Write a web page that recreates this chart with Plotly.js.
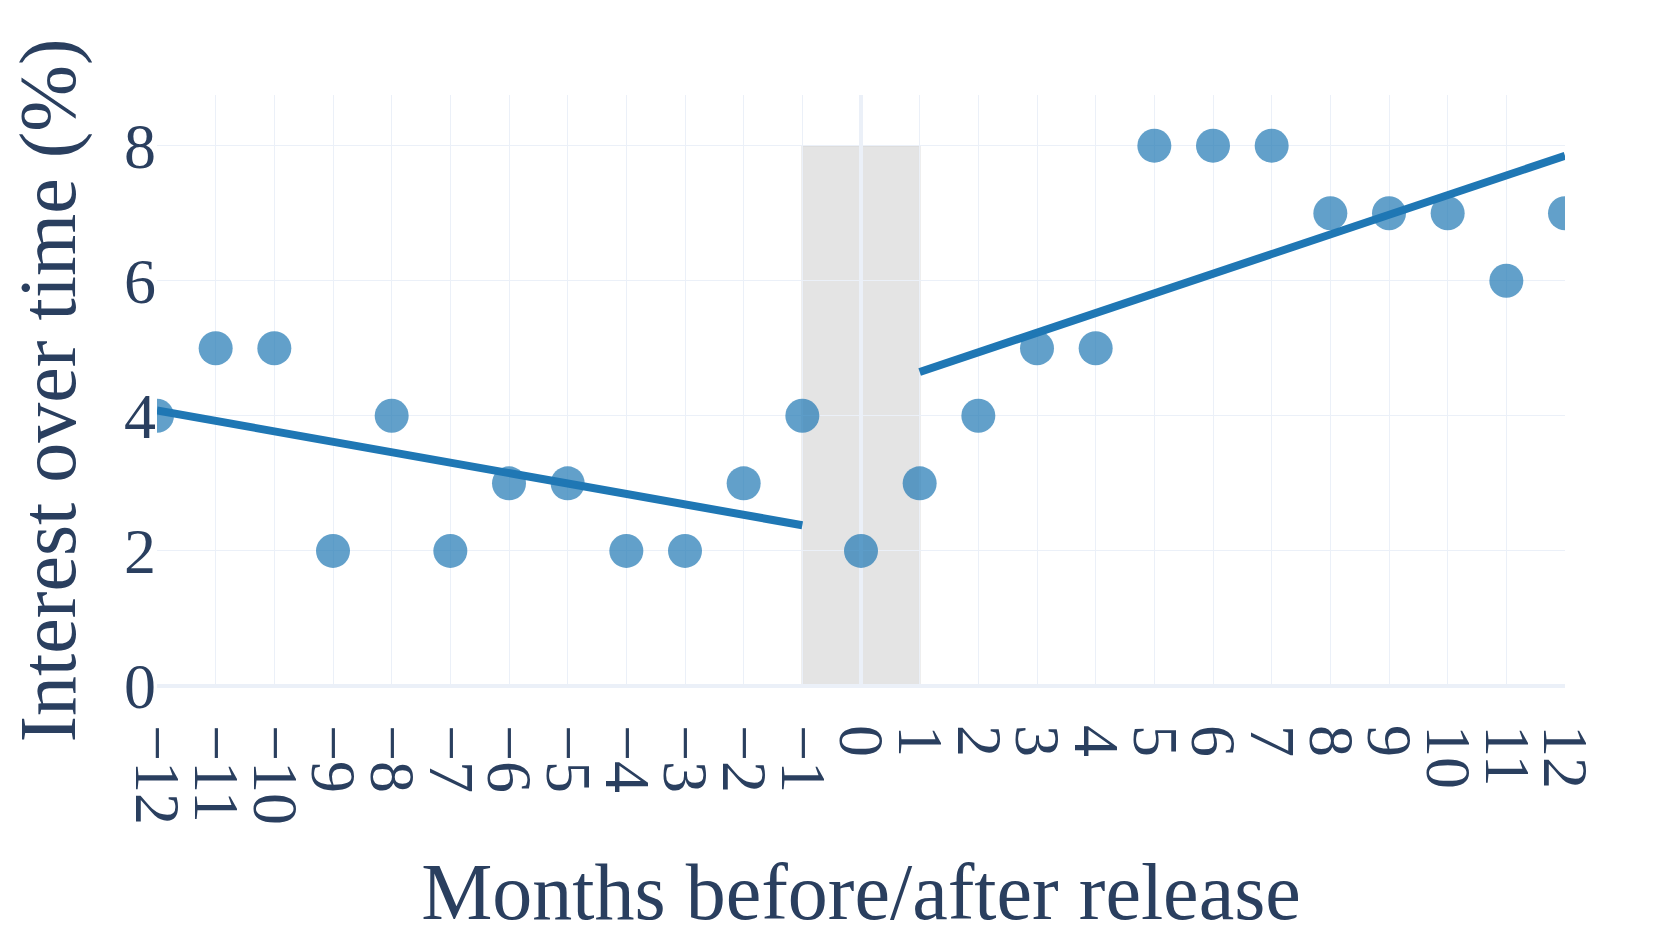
<!DOCTYPE html>
<html>
<head>
<meta charset="utf-8">
<script src="https://cdn.plot.ly/plotly-3.0.1.min.js"></script>
<style>
  html, body { margin: 0; padding: 0; background: #fff; }
  #chart { width: 1661px; height: 949px; }
</style>
</head>
<body>
<div id="chart"></div>
<script>
const months = [-12, -11, -10, -9, -8, -7, -6, -5, -4, -3, -2, -1, 0, 1, 2, 3, 4, 5, 6, 7, 8, 9, 10, 11, 12];
const interest = [4, 5, 5, 2, 4, 2, 3, 3, 2, 2, 3, 4, 2, 3, 4, 5, 5, 8, 8, 8, 7, 7, 7, 6, 7];

// fitted trend lines (endpoints)
const preX = [-12, -1];
const preY = [4.08, 2.38];
const postX = [1, 12];
const postY = [4.65, 7.85];

// release window
const windowX = [-1, 1];
const windowY = [0, 8];

const fontFamily = '"Liberation Serif", "Times New Roman", serif';
const ink = "#2a3f5f";

const traces = [
  {
    type: "scatter",
    mode: "markers",
    x: months,
    y: interest,
    marker: { color: "#1f77b4", size: 34, opacity: 0.7 },
    showlegend: false
  },
  {
    type: "scatter",
    mode: "lines",
    x: preX,
    y: preY,
    line: { color: "#1f77b4", width: 8 },
    showlegend: false
  },
  {
    type: "scatter",
    mode: "lines",
    x: postX,
    y: postY,
    line: { color: "#1f77b4", width: 8 },
    showlegend: false
  }
];

const layout = {
  width: 1661,
  height: 949,
  paper_bgcolor: "#fff",
  plot_bgcolor: "#fff",
  font: { family: fontFamily, color: ink, size: 64 },
  margin: { l: 157, r: 96, t: 95, b: 263 },
  xaxis: {
    range: [-12, 12],
    dtick: 1,
    tick0: 0,
    tickangle: 90,
    gridcolor: "#EBF0F8",
    zerolinecolor: "#EBF0F8",
    zerolinewidth: 4,
    showline: false,
    ticks: "",
    ticklabelstandoff: 38,
    tickfont: { size: 64 },
    title: { text: "Months before/after release", font: { size: 80 }, standoff: 38 }
  },
  yaxis: {
    range: [0, 8.75],
    dtick: 2,
    gridcolor: "#EBF0F8",
    zerolinecolor: "#EBF0F8",
    zerolinewidth: 4,
    ticks: "",
    tickfont: { size: 64 },
    title: { text: "Interest over time (%)", font: { size: 80 }, standoff: 22 }
  },
  shapes: [
    {
      type: "rect",
      xref: "x",
      yref: "y",
      x0: windowX[0],
      x1: windowX[1],
      y0: windowY[0],
      y1: windowY[1],
      fillcolor: "lightgrey",
      opacity: 0.6,
      line: { width: 1.5, color: "#bdbdbd" },
      layer: "below"
    }
  ]
};

Plotly.newPlot("chart", traces, layout, { displayModeBar: false, staticPlot: true });
</script>
</body>
</html>
